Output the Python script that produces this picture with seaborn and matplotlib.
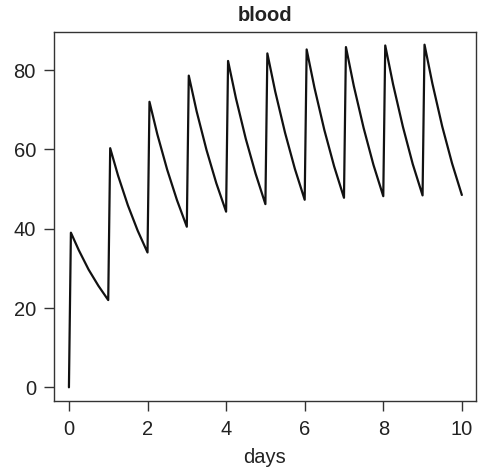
import numpy as np
import pandas as pd
import matplotlib
matplotlib.use("Agg")
import matplotlib.pyplot as plt
import seaborn as sns

# Data: concentration in blood after a daily dose
dose_days = [0, 1, 2, 3, 4, 5, 6, 7, 8, 9]
peaks   = [39.0, 60.3, 72.0, 78.6, 82.3, 84.2, 85.2, 85.8, 86.2, 86.4]
quarter = [34.6, 53.4, 63.8, 69.6, 72.9, 74.6, 75.5, 76.0, 76.4, 76.6]
half    = [29.7, 45.9, 54.9, 59.9, 62.7, 64.2, 64.9, 65.4, 65.7, 65.8]
three_q = [25.6, 39.5, 47.2, 51.5, 53.9, 55.1, 55.7, 56.1, 56.3, 56.5]
troughs = [22.0, 34.0, 40.5, 44.3, 46.2, 47.3, 47.8, 48.2, 48.4, 48.5]
start_value = 0.0
peak_offset = 0.05
sample_offsets = [0.25, 0.5, 0.75, 1.0]

t = [0.0]
c = [start_value]
for i, d in enumerate(dose_days):
    t.append(d + peak_offset); c.append(peaks[i])
    for off, arr in zip(sample_offsets, [quarter, half, three_q, troughs]):
        t.append(d + off); c.append(arr[i])
df = pd.DataFrame({"days": t, "blood": c, "order": range(len(t))})

sns.set_theme(style="ticks")
plt.rcParams["font.family"] = ["Liberation Sans", "DejaVu Sans"]

fig = plt.figure(figsize=(4.78, 4.69), dpi=100)
ax = fig.add_axes([54/478, 1-401/469, (476-54)/478, (401-32)/469])
sns.lineplot(data=df, x="days", y="blood", sort=False, estimator=None,
             color="#111111", linewidth=1.6, ax=ax)

ax.set_xlim(-0.38, 10.36)
ax.set_ylim(-3.45, 89.6)
ax.set_xticks([0, 2, 4, 6, 8, 10])
ax.set_yticks([0, 20, 40, 60, 80])
for s in ax.spines.values():
    s.set_visible(True)
    s.set_linewidth(1.0)
    s.set_color("#333333")
ax.tick_params(axis="both", direction="out", length=7, width=1.0,
               color="#333333", labelsize=14.5, labelcolor="#222222")
ax.tick_params(axis="x", pad=7)
ax.tick_params(axis="y", pad=6)
ax.set_xlabel("days", fontsize=14.5, color="#222222", labelpad=6)
ax.set_ylabel("")
ax.set_title("blood", fontsize=14.5, fontweight="bold", color="#222222", pad=8)

fig.savefig("out.png", dpi=100)
